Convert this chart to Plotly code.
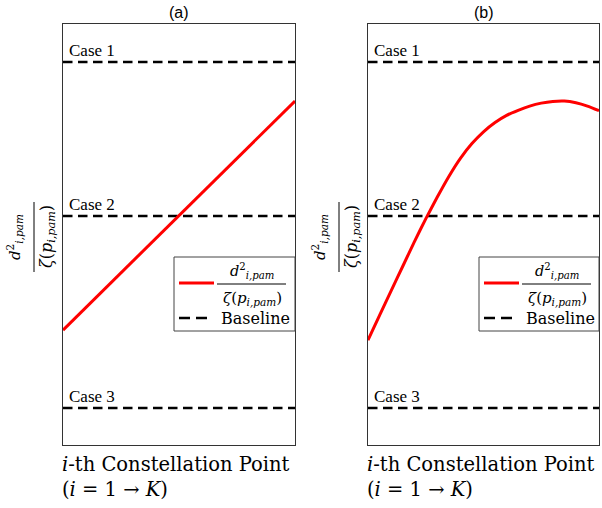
import plotly.graph_objects as go

# ---------------- data ----------------
x_a = [0.0, 1.0]
ratio_a = [0.273, 0.817]

x_b = [0.00, 0.05, 0.10, 0.15, 0.20, 0.25, 0.30, 0.35, 0.40, 0.45, 0.50,
       0.55, 0.60, 0.65, 0.70, 0.75, 0.80, 0.85, 0.90, 0.95, 1.00]
ratio_b = [0.249, 0.308, 0.366, 0.424, 0.482, 0.537, 0.589, 0.638, 0.681, 0.716, 0.744,
           0.766, 0.783, 0.795, 0.805, 0.812, 0.816, 0.817, 0.813, 0.805, 0.794]

case_names = ["Case 1", "Case 2", "Case 3"]
case_levels = [0.910, 0.544, 0.088]
x_span = [0.0, 1.0]

panel_titles = ["(a)", "(b)"]

# ---------------- layout geometry ----------------
W, H = 602, 508
L, R, T, B = 63, 3, 24, 63
PW = W - L - R
PH = H - T - B
dom_a = [0.0, 232 / PW]
dom_b = [305 / PW, 1.0]
panel_w = [232, PW - 305]

SERIF_CM = "DejaVu Serif"
SERIF_T = "Liberation Serif"
SANS = "Liberation Sans"

fig = go.Figure()

axes = [("x", "y", dom_a), ("x2", "y2", dom_b)]
series = [(x_a, ratio_a), (x_b, ratio_b)]

for (xa, ya, dom), (xs, ys) in zip(axes, series):
    for lev in case_levels:
        fig.add_trace(go.Scatter(
            x=x_span, y=[lev, lev], mode="lines", xaxis=xa, yaxis=ya,
            line=dict(color="black", width=2.5, dash="9.5px,5.5px"),
            showlegend=False, hoverinfo="skip"))
    fig.add_trace(go.Scatter(
        x=xs, y=ys, mode="lines", xaxis=xa, yaxis=ya,
        line=dict(color="#ff0000", width=3, shape="spline", smoothing=0.6),
        showlegend=False, hoverinfo="skip"))

ax_common = dict(range=[0, 1], showticklabels=False, ticks="", showgrid=False,
                 zeroline=False, showline=True, mirror=True,
                 linecolor="#333333", linewidth=1, fixedrange=True)

fig.update_layout(
    width=W, height=H,
    margin=dict(l=L, r=R, t=T, b=B, pad=0),
    paper_bgcolor="white", plot_bgcolor="white",
    xaxis=dict(domain=dom_a, anchor="y", **ax_common),
    yaxis=dict(domain=[0, 1], anchor="x", **ax_common),
    xaxis2=dict(domain=dom_b, anchor="y2", **ax_common),
    yaxis2=dict(domain=[0, 1], anchor="x2", **ax_common),
    showlegend=False,
)

shapes = []
annotations = []


def pline(xa0, x0, x1, y0, y1, color, width, dash="solid"):
    shapes.append(dict(type="line", xref="paper", yref="paper",
                       xsizemode="pixel", ysizemode="pixel",
                       xanchor=xa0, yanchor=0,
                       x0=x0, x1=x1, y0=y0, y1=y1, layer="above",
                       line=dict(color=color, width=width, dash=dash)))


def ptext(xa0, dx, dy, text, size, family, xanchor="center", angle=0):
    annotations.append(dict(xref="paper", yref="paper", x=xa0, y=0,
                            xshift=dx, yshift=dy, text=text, showarrow=False,
                            xanchor=xanchor, yanchor="middle", textangle=angle,
                            font=dict(family=family, size=size, color="black")))


numer = "<i>d</i><sup>2</sup><sub><i>i,pam</i></sub>"
denom = "<i>ζ</i>(<i>p</i><sub><i>i,pam</i></sub>)"

for k, ((xa, ya, dom), title, pw) in enumerate(zip(axes, panel_titles, panel_w)):
    x0p = dom[0]
    xr = "x" if k == 0 else "x2"
    yr = "y" if k == 0 else "y2"

    # panel title
    annotations.append(dict(xref=xr + " domain", yref="paper", x=0.5, y=1,
                            yshift=1, yanchor="bottom", xanchor="center",
                            text=title, showarrow=False,
                            font=dict(family=SANS, size=16, color="black")))

    # case labels
    for name, lev in zip(case_names, case_levels):
        annotations.append(dict(xref=xr, yref=yr, x=0, y=lev, xshift=4,
                                yshift=0, xanchor="left", yanchor="bottom",
                                text=name, showarrow=False,
                                font=dict(family=SERIF_T, size=17, color="black")))

    # x label
    annotations.append(dict(xref="paper", yref="paper", x=x0p, y=0,
                            xshift=-3, yshift=-6, xanchor="left", yanchor="top",
                            align="left", showarrow=False,
                            text="<i>i</i>-th Constellation Point<br>(<i>i</i> = 1 → <i>K</i>)",
                            font=dict(family=SERIF_CM, size=19.5, color="black")))

    # y label (rotated fraction)
    ptext(x0p, -49, 208, numer, 15, SERIF_CM, angle=-90)
    pline(x0p, -29, -29, 173, 243, "black", 1)
    ptext(x0p, -16, 208, denom, 16, SERIF_CM, angle=-90)

    # legend box
    shapes.append(dict(type="rect", xref="paper", yref="paper",
                       xsizemode="pixel", ysizemode="pixel",
                       xanchor=x0p, yanchor=0, x0=111, x1=pw, y0=114, y1=188,
                       layer="above", fillcolor="white",
                       line=dict(color="#444444", width=1)))
    pline(x0p, 116, 151, 162, 162, "#ff0000", 3)
    pline(x0p, 154, 223, 161, 161, "black", 1)
    ptext(x0p, 189, 174, numer, 14.5, SERIF_CM)
    ptext(x0p, 189, 147, denom, 15, SERIF_CM)
    pline(x0p, 116, 145, 127, 127, "black", 2.5, dash="11px,6px")
    ptext(x0p, 156, 127, "Baseline", 16, SERIF_CM, xanchor="left")

fig.update_layout(shapes=shapes, annotations=annotations)

fig.write_html("out.html")
